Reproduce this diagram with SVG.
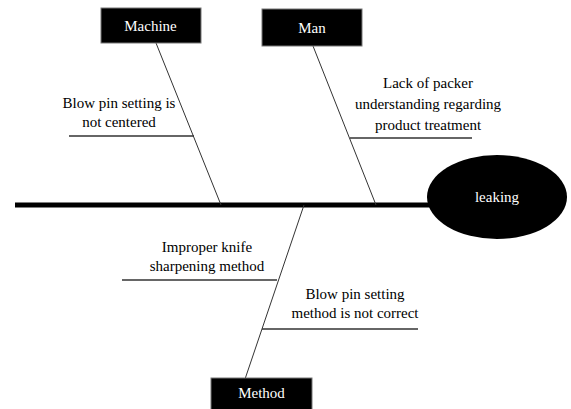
<svg xmlns="http://www.w3.org/2000/svg" width="571" height="409" viewBox="0 0 571 409">
<style>
text{font-family:'Liberation Serif','Times New Roman',Times,serif;font-size:15px;text-anchor:middle}
.lbl{fill:#000}
.wl{fill:#fff}
.bone{stroke:#333;stroke-width:1;fill:none}
.sub{stroke:#333;stroke-width:1.4;fill:none}
.box{fill:#000;stroke:#777;stroke-width:1}
</style>
<rect width="571" height="409" fill="#fff"/>
<g id="connectors">
<line x1="15" y1="205" x2="432" y2="205" stroke="#000" stroke-width="5"/>
<line class="bone" x1="156" y1="43" x2="221" y2="205"/>
<line class="bone" x1="313" y1="46" x2="376" y2="205"/>
<line class="bone" x1="304" y1="205" x2="243" y2="385"/>
<line class="sub" x1="69" y1="136" x2="194" y2="136"/>
<line class="sub" x1="350" y1="138" x2="472" y2="138"/>
<line class="sub" x1="122" y1="280" x2="277" y2="280"/>
<line class="sub" x1="262" y1="329" x2="418" y2="329"/>
</g>
<g id="machine">
<rect class="box" x="101" y="8" width="100" height="35"/>
<text class="wl" x="150.5" y="31">Machine</text>
</g>
<g id="man">
<rect class="box" x="262" y="9" width="100" height="37"/>
<text class="wl" x="312" y="33">Man</text>
</g>
<g id="method">
<rect class="box" x="211" y="378" width="101" height="33"/>
<text class="wl" x="261.5" y="398">Method</text>
</g>
<g id="leaking">
<ellipse cx="497" cy="197" rx="70" ry="42" fill="#000"/>
<text class="wl" x="497" y="202">leaking</text>
</g>
<g id="cause1">
<text class="lbl" x="119" y="108">Blow pin setting is</text>
<text class="lbl" x="119" y="127">not centered</text>
</g>
<g id="cause2">
<text class="lbl" x="428" y="88">Lack of packer</text>
<text class="lbl" x="428" y="109">understanding regarding</text>
<text class="lbl" x="428" y="130">product treatment</text>
</g>
<g id="cause3">
<text class="lbl" x="207" y="252">Improper knife</text>
<text class="lbl" x="207" y="271">sharpening method</text>
</g>
<g id="cause4">
<text class="lbl" x="355" y="299">Blow pin setting</text>
<text class="lbl" x="355" y="318">method is not correct</text>
</g>
</svg>
